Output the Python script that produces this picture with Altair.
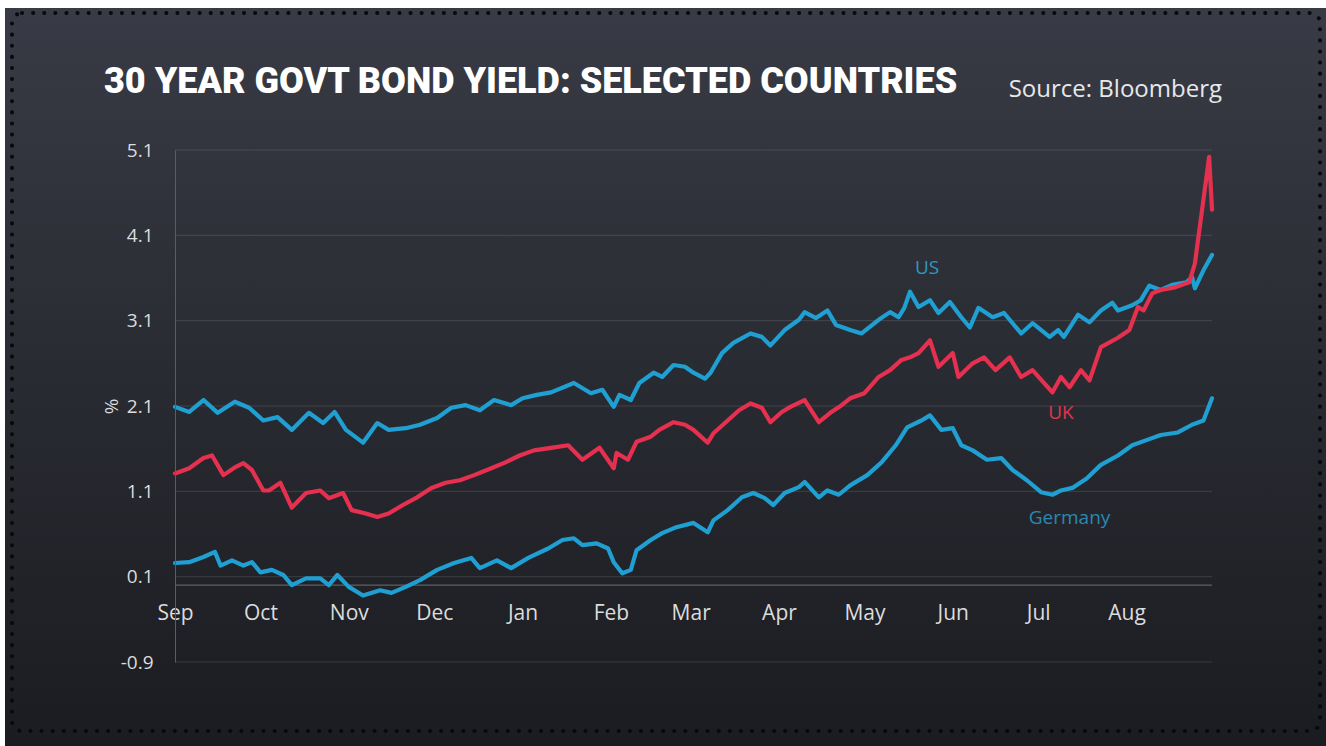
import altair as alt
import pandas as pd

TITLE = "30 YEAR GOVT BOND YIELD: SELECTED COUNTRIES"
SOURCE = "Source: Bloomberg"
START = "2021-09-01"

# days since 2021-09-01 and yields (%)
us_day = [0,5,10,15,21,26,31,36,41,47,52,56,60,66,71,75,81,86,92,97,102,107,112,118,122,127,132,140,146,150,
          154,156,160,163,168,171,175,179,182,186,188,192,196,202,206,209,214,219,221,225,229,232,237,241,247,251,254,256,258,261,
          265,268,272,276,279,282,287,291,294,297,301,307,310,312,317,321,325,329,331,336,339,342,346,350,355,357,358,361,364]
us_val = [2.09,2.03,2.17,2.02,2.15,2.08,1.93,1.97,1.82,2.02,1.90,2.03,1.82,1.67,1.90,1.82,1.84,1.88,1.96,2.08,
          2.11,2.05,2.17,2.11,2.19,2.23,2.26,2.37,2.25,2.29,2.09,2.23,2.17,2.37,2.49,2.44,2.58,2.56,2.49,2.42,
          2.49,2.72,2.84,2.95,2.91,2.81,2.99,3.11,3.20,3.13,3.22,3.05,2.99,2.95,3.11,3.20,3.14,3.25,3.44,3.26,
          3.34,3.19,3.32,3.14,3.02,3.25,3.14,3.19,3.07,2.95,3.07,2.91,2.99,2.91,3.17,3.08,3.22,3.31,3.22,3.28,
          3.34,3.51,3.46,3.52,3.55,3.61,3.48,3.69,3.87]

uk_day = [0,5,10,13,17,21,24,27,31,33,37,41,46,51,54,59,62,67,71,75,80,85,90,95,100,105,111,116,121,126,
          132,138,143,149,154,155,159,162,167,170,175,179,182,187,189,194,198,202,206,209,213,216,221,226,230,234,237,242,247,251,
          255,258,261,265,268,273,275,280,284,288,293,297,301,305,308,311,314,318,321,325,331,335,338,340,343,346,351,356,358,363,364]
uk_val = [1.31,1.37,1.49,1.52,1.29,1.38,1.43,1.35,1.11,1.11,1.20,0.91,1.08,1.11,1.02,1.08,0.88,0.84,0.80,0.84,
          0.94,1.03,1.14,1.20,1.23,1.29,1.37,1.44,1.52,1.58,1.61,1.64,1.47,1.61,1.37,1.55,1.47,1.68,1.74,1.82,
          1.91,1.88,1.82,1.67,1.78,1.93,2.05,2.13,2.08,1.91,2.03,2.09,2.17,1.91,2.02,2.11,2.19,2.25,2.44,2.52,
          2.64,2.67,2.72,2.87,2.56,2.72,2.44,2.60,2.67,2.52,2.67,2.44,2.52,2.37,2.26,2.44,2.32,2.52,2.40,2.79,
          2.90,2.99,3.26,3.22,3.42,3.46,3.49,3.55,3.77,5.02,4.40]

de_day = [0,5,10,14,16,20,24,27,30,34,38,41,46,51,54,57,61,66,72,76,81,86,92,98,104,107,113,118,124,131,
          136,140,143,148,152,154,157,160,162,167,171,176,182,187,189,194,199,203,207,210,214,219,221,226,229,233,237,243,248,253,
          257,262,265,269,273,276,280,285,290,294,299,304,308,311,315,320,325,331,336,341,346,352,357,361,364]
de_val = [0.26,0.27,0.33,0.39,0.23,0.29,0.23,0.27,0.15,0.18,0.12,0.0,0.08,0.08,0.0,0.12,-0.02,-0.12,-0.06,-0.09,
          -0.02,0.06,0.18,0.26,0.32,0.20,0.29,0.20,0.32,0.43,0.53,0.55,0.47,0.49,0.43,0.27,0.14,0.18,0.41,0.53,
          0.61,0.68,0.73,0.62,0.76,0.88,1.03,1.08,1.02,0.94,1.08,1.15,1.21,1.03,1.11,1.06,1.17,1.29,1.44,1.64,
          1.85,1.93,1.99,1.82,1.84,1.64,1.58,1.47,1.49,1.35,1.23,1.09,1.06,1.11,1.14,1.25,1.41,1.52,1.64,1.70,
          1.76,1.79,1.88,1.93,2.19]

label_names = ["US", "UK", "Germany"]
label_days = [264, 311, 314]
label_vals = [3.72, 2.02, 0.79]
label_colors = ["#2c97c4", "#e0354f", "#2b88b2"]

y_ticks = [-0.9, 0.1, 1.1, 2.1, 3.1, 4.1, 5.1]
baseline_val = [0.0]
month_starts = [(2021, 9), (2021, 10), (2021, 11), (2021, 12), (2022, 1), (2022, 2),
                (2022, 3), (2022, 4), (2022, 5), (2022, 6), (2022, 7), (2022, 8)]

BLUE = "#1f9fd2"
RED = "#e6304f"
FONT = "Open Sans"
TITLE_FONT = "Roboto"


def to_dates(days):
    d = pd.Timestamp(START) + pd.to_timedelta(days, unit="D")
    return [x.strftime("%Y-%m-%d") for x in d]


frames = []
for name, days, vals in [("US", us_day, us_val), ("UK", uk_day, uk_val), ("Germany", de_day, de_val)]:
    frames.append(pd.DataFrame({"date": to_dates(days), "value": vals, "series": name}))
lines_df = pd.concat(frames, ignore_index=True)

labels_df = pd.DataFrame({"date": to_dates(label_days), "value": label_vals,
                          "name": label_names, "color": label_colors})
grid_df = pd.DataFrame({"value": y_ticks})
base_df = pd.DataFrame({"value": baseline_val})
one = pd.DataFrame({"a": [0]})

x_scale = alt.Scale(type="utc",
                    domain=[alt.DateTime(year=2021, month=9, date=1, utc=True),
                            alt.DateTime(year=2022, month=8, date=31, utc=True)])
y_scale = alt.Scale(domain=[-0.9, 5.1], nice=False, zero=False)

x_axis = alt.Axis(values=[alt.DateTime(year=y, month=m, date=1, utc=True) for y, m in month_starts],
                  labelExpr="utcFormat(datum.value, '%b')", offset=-77, domain=False, ticks=False, grid=False,
                  labelFont=FONT, labelFontSize=21, labelColor="#dcdcdc", labelPadding=17,
                  labelFlush=False, labelOverlap=False, title=None, zindex=1)
y_axis = alt.Axis(values=y_ticks,
                  labelExpr="datum.value < 0 ? '-' + format(-datum.value, '.1f') : format(datum.value, '.1f')",
                  grid=False, ticks=False, domain=True, domainColor="#5a5d66", domainWidth=1,
                  labelFont=FONT, labelFontSize=19, labelColor="#dcdcdc", labelPadding=22,
                  title="%", titleFont=FONT, titleFontSize=19, titleFontWeight="normal",
                  titleColor="#dcdcdc", titleX=-54, titleY=256, zindex=1)

X = alt.X("date:T", scale=x_scale, axis=x_axis)
Y = alt.Y("value:Q", scale=y_scale, axis=y_axis)

bg = alt.Chart(one).mark_rect(
    color=alt.LinearGradient(gradient="linear", x1=0, x2=0, y1=0, y2=1,
                             stops=[alt.GradientStop(color="#383b45", offset=0),
                                    alt.GradientStop(color="#292b32", offset=0.5),
                                    alt.GradientStop(color="#1b1c21", offset=1)])
).encode(x=alt.value(-170), x2=alt.value(1151), y=alt.value(-142), y2=alt.value(596))

border = alt.Chart(one).mark_rect(
    filled=False, stroke="#08090b", strokeWidth=4, strokeDash=[0.1, 11], strokeCap="round", cornerRadius=10
).encode(x=alt.value(-163), x2=alt.value(1145), y=alt.value(-137), y2=alt.value(581))

grid = alt.Chart(grid_df).mark_rule(color="#ffffff", opacity=0.12, strokeWidth=1).encode(y=Y)
base = alt.Chart(base_df).mark_rule(color="#ffffff", opacity=0.28, strokeWidth=1.2).encode(y=Y)


def line(name, color):
    return alt.Chart(lines_df).transform_filter(alt.datum.series == name).mark_line(
        color=color, strokeWidth=4.2, strokeJoin="round", strokeCap="round"
    ).encode(x=X, y=Y)


labels = alt.Chart(labels_df).mark_text(font=FONT, fontSize=19).encode(
    x=X, y=Y, text="name:N", color=alt.Color("color:N", scale=None))

title = alt.Chart(one).mark_text(
    text=TITLE, align="left", baseline="alphabetic", font=TITLE_FONT, fontSize=36,
    fontWeight=900, color="#ffffff"
).encode(x=alt.value(-71), y=alt.value(-57))

source = alt.Chart(one).mark_text(
    text=SOURCE, align="right", baseline="alphabetic", font=FONT, fontSize=24, color="#e8e8e8"
).encode(x=alt.value(1047), y=alt.value(-53))

chart = alt.layer(
    bg, border, grid, base, line("US", BLUE), line("Germany", BLUE), line("UK", RED), labels, title, source
).properties(
    width=1037, height=512,
    autosize=alt.AutoSizeParams(type="none"),
    padding={"left": 175, "top": 150, "right": 114, "bottom": 84},
    background="#ffffff",
).configure_view(strokeWidth=0)

chart.save("out.html", embed_options={"renderer": "svg", "actions": False})
